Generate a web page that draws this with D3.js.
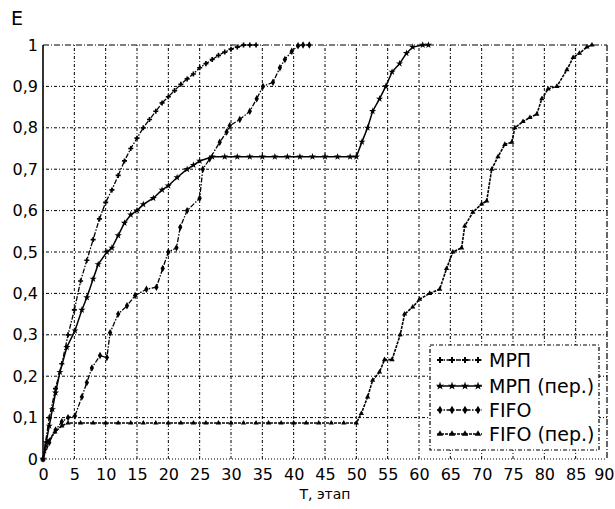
<!DOCTYPE html>
<html><head><meta charset="utf-8">
<script src="https://cdn.jsdelivr.net/npm/d3@7/dist/d3.min.js"></script>
<style>body{margin:0;background:#fff}svg{display:block}text{font-family:"DejaVu Sans",sans-serif;fill:#000}</style>
</head><body><svg id="c" width="615" height="509"></svg>
<script>
const seriesNames = ["МРП", "МРП (пер.)", "FIFO", "FIFO (пер.)"];
const xTicks = [0,5,10,15,20,25,30,35,40,45,50,55,60,65,70,75,80,85,90];
const yTicks = [0,0.1,0.2,0.3,0.4,0.5,0.6,0.7,0.8,0.9,1];
const yTickLabels = ["0","0,1","0,2","0,3","0,4","0,5","0,6","0,7","0,8","0,9","1"];

const mrp = [[0,0],[1,0.1],[2,0.17],[3,0.23],[4,0.3],[5,0.36],[6,0.43],[7,0.48],[8,0.53],[9,0.58],[10,0.62],[11,0.65],[12,0.685],[13,0.72],[14,0.75],[15,0.775],[16,0.8],[17,0.82],[18,0.84],[19,0.86],[20,0.875],[21,0.89],[22,0.905],[23,0.918],[24,0.93],[25,0.945],[26,0.955],[27,0.965],[28,0.975],[29,0.983],[30,0.99],[31,0.995],[32,1],[33,1],[34,1]];
const mrpPer = [[0,0],[0.5,0.04],[1,0.08],[1.5,0.12],[2,0.16],[2.7,0.21],[3.8,0.27],[5.1,0.31],[6.2,0.36],[7,0.39],[8,0.435],[8.8,0.47],[10.2,0.5],[11,0.51],[12,0.54],[13,0.57],[14,0.59],[15,0.6],[16,0.615],[17.6,0.63],[19,0.65],[20,0.66],[21.4,0.68],[23,0.7],[24,0.71],[25,0.72],[27,0.73],[29,0.73],[31,0.73],[33,0.73],[35,0.73],[37,0.73],[39,0.73],[41,0.73],[43,0.73],[45,0.73],[47,0.73],[49,0.73],[50,0.73],[50.9,0.766],[51.8,0.8],[52.6,0.84],[53.7,0.87],[54.7,0.9],[55.7,0.935],[56.9,0.955],[58,0.98],[59,0.995],[60.6,1],[61.5,1]];
const fifo = [[0,0],[1,0.04],[2,0.07],[3,0.09],[4,0.1],[5.1,0.104],[6.2,0.15],[7,0.185],[7.8,0.22],[9.1,0.25],[10.2,0.245],[10.7,0.305],[12,0.35],[13.4,0.37],[14.7,0.395],[16.5,0.41],[18.1,0.415],[19.1,0.46],[20,0.5],[21.3,0.51],[21.9,0.56],[23,0.6],[25,0.63],[25.5,0.7],[26.6,0.725],[28.2,0.765],[29.3,0.79],[29.8,0.805],[31.4,0.82],[33,0.84],[34.1,0.87],[35.1,0.9],[36.7,0.91],[37.8,0.945],[38.6,0.965],[39.7,0.985],[40.7,0.998],[41.5,1],[42.5,1]];
const fifoPer = [[0,0],[0.8,0.043],[1.9,0.065],[3,0.08],[4,0.087],[6,0.087],[8,0.087],[10,0.087],[12,0.087],[14,0.087],[16,0.087],[18,0.087],[20,0.087],[22,0.087],[24,0.087],[26,0.087],[28,0.087],[30,0.087],[32,0.087],[34,0.087],[36,0.087],[38,0.087],[40,0.087],[42,0.087],[44,0.087],[46,0.087],[48,0.087],[50,0.087],[50.8,0.11],[51.8,0.15],[52.6,0.19],[53.7,0.21],[54.5,0.24],[55.7,0.24],[57,0.3],[57.7,0.35],[59,0.367],[60.1,0.386],[61.7,0.4],[63.3,0.41],[64.4,0.46],[65.4,0.5],[66.8,0.51],[67.3,0.563],[68.6,0.596],[70,0.616],[70.8,0.623],[71.6,0.7],[72.6,0.73],[73.7,0.76],[74.8,0.765],[75.3,0.8],[76.6,0.815],[77.7,0.825],[78.8,0.833],[79.6,0.87],[80.6,0.894],[82,0.9],[83.6,0.94],[84.6,0.97],[85.6,0.98],[86.8,0.995],[87.6,1]];

const allSeries = [mrp, mrpPer, fifo, fifoPer];
const styles = [
  {dash:"5,1.5,1.5,1.5", sym:d3.symbolCross, size:14, w:1.3},
  {dash:null, sym:d3.symbolStar, size:16, w:1.5},
  {dash:"5,1.5,1.5,1.5", sym:d3.symbolDiamond, size:16, w:1.3},
  {dash:"3,1", sym:d3.symbolTriangle, size:12, w:1.6}
];

const svg = d3.select("#c");
const x = d3.scaleLinear().domain([0,90]).range([43,607]);
const y = d3.scaleLinear().domain([0,1]).range([459,45]);

// grid
const g = svg.append("g");
g.selectAll(".vg").data(xTicks.filter(d=>d>0&&d<90)).enter().append("line")
  .attr("x1",d=>x(d)).attr("x2",d=>x(d)).attr("y1",y(0)).attr("y2",y(1))
  .attr("stroke","#000").attr("stroke-width",1).attr("stroke-dasharray","3,2,1,2");
g.selectAll(".hg").data(yTicks.filter(d=>d>0&&d<1)).enter().append("line")
  .attr("y1",d=>y(d)).attr("y2",d=>y(d)).attr("x1",x(0)).attr("x2",x(90))
  .attr("stroke","#000").attr("stroke-width",1).attr("stroke-dasharray","1,2,3,2");
// frame
g.append("line").attr("x1",x(0)).attr("x2",x(90)).attr("y1",y(1)).attr("y2",y(1))
  .attr("stroke","#000").attr("stroke-width",1.2).attr("stroke-dasharray","6,2,1,2");
g.append("line").attr("x1",x(90)).attr("x2",x(90)).attr("y1",y(1)).attr("y2",y(0))
  .attr("stroke","#000").attr("stroke-width",1.2).attr("stroke-dasharray","6,2,1,2");
g.append("line").attr("x1",x(0)).attr("x2",x(90)).attr("y1",y(0)).attr("y2",y(0))
  .attr("stroke","#000").attr("stroke-width",1).attr("stroke-dasharray","1,2");
g.append("line").attr("x1",x(0)).attr("x2",x(0)).attr("y1",y(0)).attr("y2",y(1))
  .attr("stroke","#000").attr("stroke-width",1.6);

// axes via d3 axis
const xAxis = d3.axisBottom(x).tickValues(xTicks).tickSize(0).tickPadding(10).tickFormat(d3.format("d"));
const xa = svg.append("g").attr("transform",`translate(0,${y(0)})`).call(xAxis);
xa.select(".domain").remove();
xa.selectAll("text").style("font-size","16px").style("font-family","DejaVu Sans");
xa.selectAll(".tick").filter(d=>d===90).select("text").attr("text-anchor","end").attr("x",7);
const yAxis = d3.axisLeft(y).tickValues(yTicks).tickSize(0).tickPadding(5).tickFormat((d,i)=>yTickLabels[i]);
const ya = svg.append("g").attr("transform",`translate(${x(0)},0)`).call(yAxis);
ya.select(".domain").remove();
ya.selectAll("text").style("font-size","16px").style("font-family","DejaVu Sans");

// series
const line = d3.line().x(d=>x(d[0])).y(d=>y(d[1]));
allSeries.forEach((s,i)=>{
  const st = styles[i];
  const p = svg.append("path").datum(s).attr("d",line).attr("fill","none")
    .attr("stroke","#000").attr("stroke-width",st.w);
  if (st.dash) p.attr("stroke-dasharray",st.dash);
  svg.selectAll(".m"+i).data(s).enter().append("path")
    .attr("transform",d=>`translate(${x(d[0])},${y(d[1])})`)
    .attr("d",d3.symbol().type(st.sym).size(st.size)).attr("fill","#000");
});

// axis titles
svg.append("text").attr("x",11).attr("y",25).style("font-size","19px").text("E");
svg.append("text").attr("x",325).attr("y",499).attr("text-anchor","middle").style("font-size","14px").text("T, этап");

// legend
const lg = svg.append("g");
lg.append("rect").attr("x",430).attr("y",345).attr("width",169).attr("height",105)
  .attr("fill","#fff").attr("stroke","#000").attr("stroke-width",1.2).attr("stroke-dasharray","4,2,1,2");
const rowsY = [360,386,410,434];
seriesNames.forEach((n,i)=>{
  const st = styles[i];
  const yy = rowsY[i];
  const l = lg.append("line").attr("x1",437).attr("x2",482).attr("y1",yy).attr("y2",yy)
    .attr("stroke","#000").attr("stroke-width",1.3);
  if (st.dash) l.attr("stroke-dasharray",st.dash);
  [440,452,465,478].forEach(px=>{
    lg.append("path").attr("transform",`translate(${px},${yy})`)
      .attr("d",d3.symbol().type(st.sym).size(st.size+6)).attr("fill","#000");
  });
  lg.append("text").attr("x",489).attr("y",yy+7).style("font-size","19px").text(n);
});
</script></body></html>
